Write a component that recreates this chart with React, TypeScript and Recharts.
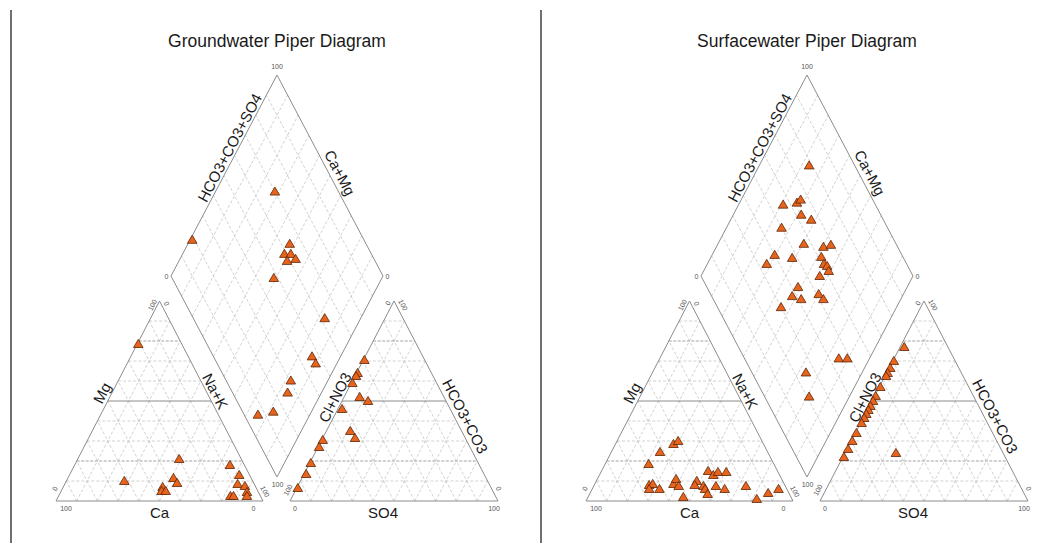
import React from "react";
import { ReferenceLine, Scatter, ScatterChart, XAxis, YAxis } from "recharts";

const PANEL_TITLES = ["Groundwater Piper Diagram", "Surfacewater Piper Diagram"];
const CATION_AXES = ["Mg", "Na+K", "Ca"];
const ANION_AXES = ["Cl+NO3", "HCO3+CO3", "SO4"];
const DIAMOND_AXES = ["HCO3+CO3+SO4", "Ca+Mg"];
const TICKS = ["0", "100"];

// cation triangle: [Mg %, Na+K %]
const gwCation = [
  [78.5, 0.5], [21, 49], [10, 28], [11.5, 51], [9, 54], [7, 48], [5, 48.5], [5, 50.5],
  [18, 75], [13, 82], [8.5, 83.5], [7.5, 87.5], [4.5, 90], [2.5, 83], [2.5, 84.5], [2.5, 91],
];
// anion triangle: [HCO3+CO3 %, SO4 %]
const gwAnion = [
  [70.5, 0.5], [64, 0.5], [62.5, 0.5], [59, 0.5], [52, 7.5], [50, 12.5], [46, 2],
  [35, 11.5], [31.5, 15.5], [30.5, 0.5], [27, 0.5], [19, 0.5], [13.5, 1], [6.5, 0.5],
];
// diamond: [Ca+Mg %, HCO3+CO3+SO4 %]
const gwDiamond = [
  [72, 70], [99, 19], [52, 64], [52, 59], [49, 62], [49, 58.5], [45.5, 63], [51, 48],
  [17, 62], [13.5, 46.5], [10, 46.5], [17.5, 30.5], [16, 26], [24.5, 6.5], [18, 14.5],
];

const swCation = [
  [28.5, 28], [30, 29.5], [24.5, 23.5], [18.5, 21], [8, 26.5], [8.5, 28], [6, 27.5], [6, 32.5],
  [8.5, 38], [11, 38], [7.5, 41], [2, 46], [10, 48.5], [8, 48.5], [7.5, 53], [6, 54.5],
  [3.5, 57], [15, 51.5], [13, 55], [14.5, 56.5], [14.5, 60.5], [7.5, 59], [6, 64], [7.5, 73.5],
  [1, 82], [4, 86], [6, 90],
];
const swAnion = [
  [77, 2], [70, 0.5], [66.5, 0.5], [64, 0.5], [62.5, 0.5], [57, 0.5], [52.5, 0.5], [50, 0.5],
  [47.5, 0.5], [45.5, 0.5], [43.5, 0.5], [41.5, 0.5], [39, 0.5], [34, 0.5], [30, 0.5],
  [26, 0.5], [22, 0.5], [24, 24.5],
];
const swDiamond = [
  [76.5, 78.5], [79, 56.5], [73, 63.5], [72, 66], [68, 62.5], [62, 66], [74, 50], [59.5, 56.5],
  [49.5, 65], [46.5, 69], [70.5, 40], [72, 34], [61.5, 47.5], [48, 61.5], [45, 61], [43, 62],
  [41, 61.5], [44, 56], [51.5, 43], [52, 38], [47, 41.5], [40, 51], [36.5, 52], [54.5, 30],
  [14.5, 44.5], [10.5, 48.5], [26.5, 25.5], [19, 21],
];

const PANEL_W = 528;
const PANEL_H = 543;
const FONT = "'Liberation Sans', Arial, Helvetica, sans-serif";

// layout of one panel (chart units == pixels)
const CAT = { x0: 56, x1: 263, yb: 501, yt: 301 };
const AN = { x0: 290, x1: 498, yb: 501, yt: 301 };
const DIA = { cx: 277, hw: 106, yb: 477, ym: 276 };

type Pt = { x: number; y: number };
type Tri = typeof CAT;

const tern = (T: Tri, top: number, right: number): Pt => ({
  x: T.x0 + ((T.x1 - T.x0) * (right + top / 2)) / 100,
  y: T.yb - ((T.yb - T.yt) * top) / 100,
});
const dia = (left: number, right: number): Pt => ({
  x: DIA.cx + (DIA.hw * (right - left)) / 100,
  y: DIA.yb - ((DIA.yb - DIA.ym) * (left + right)) / 100,
});

const along = (p: Pt, q: Pt, t: number, off: number): Pt => {
  const dx = q.x - p.x;
  const dy = q.y - p.y;
  const len = Math.hypot(dx, dy);
  return { x: p.x + t * dx + (off * dy) / len, y: p.y + t * dy - (off * dx) / len };
};
const angleOf = (p: Pt, q: Pt) => (Math.atan2(q.y - p.y, q.x - p.x) * 180) / Math.PI;

type Seg = { a: Pt; b: Pt; kind: string };

function triangleLines(T: Tri): Seg[] {
  const out: Seg[] = [];
  for (let k = 10; k < 100; k += 10) {
    const hk = k === 50 ? "solid" : k === 20 || k === 80 ? "dark" : "grid";
    out.push({ a: tern(T, k, 0), b: tern(T, k, 100 - k), kind: hk });
    out.push({ a: tern(T, 0, k), b: tern(T, 100 - k, k), kind: "grid" });
    out.push({ a: tern(T, 0, 100 - k), b: tern(T, 100 - k, 0), kind: "grid" });
  }
  const bl = tern(T, 0, 0), br = tern(T, 0, 100), ap = tern(T, 100, 0);
  out.push({ a: bl, b: br, kind: "edge" }, { a: br, b: ap, kind: "edge" }, { a: ap, b: bl, kind: "edge" });
  return out;
}

function diamondLines(): Seg[] {
  const out: Seg[] = [];
  for (let k = 10; k < 100; k += 10) {
    out.push({ a: dia(k, 0), b: dia(k, 100), kind: "grid" });
    out.push({ a: dia(0, k), b: dia(100, k), kind: "grid" });
  }
  const b = dia(0, 0), l = dia(100, 0), t = dia(100, 100), r = dia(0, 100);
  out.push({ a: b, b: l, kind: "edge" }, { a: l, b: t, kind: "edge" }, { a: t, b: r, kind: "edge" }, { a: r, b: b, kind: "edge" });
  return out;
}

const LINE_STYLE: Record<string, any> = {
  edge: { stroke: "#8c8c8c", strokeWidth: 1 },
  solid: { stroke: "#8c8c8c", strokeWidth: 1 },
  dark: { stroke: "#8a8a8a", strokeWidth: 0.8, strokeDasharray: "3 1.5" },
  grid: { stroke: "#bdbdbd", strokeWidth: 0.7, strokeDasharray: "3 2" },
};

type Lbl = Pt & { text: string; angle: number; size: number; color: string };

function buildLabels(title: string): Lbl[] {
  const out: Lbl[] = [];
  const add = (p: Pt, text: string, angle: number, size: number, color = "#1a1a1a") =>
    out.push({ x: p.x, y: p.y, text, angle, size, color });
  const tick = (p: Pt, text: string, angle = 0) => add(p, text, angle, 7, "#555");

  add({ x: DIA.cx, y: 41 }, title, 0, 17.5);

  const cBL = tern(CAT, 0, 0), cBR = tern(CAT, 0, 100), cAP = tern(CAT, 100, 0);
  const aBL = tern(AN, 0, 0), aBR = tern(AN, 0, 100), aAP = tern(AN, 100, 0);
  const dB = dia(0, 0), dL = dia(100, 0), dT = dia(100, 100), dR = dia(0, 100);
  const up = angleOf(cBL, cAP);
  const down = angleOf(cAP, cBR);

  add(along(cBL, cAP, 0.52, 9), CATION_AXES[0], up, 15);
  add(along(cAP, cBR, 0.47, 8), CATION_AXES[1], down, 15);
  add({ x: (cBL.x + cBR.x) / 2, y: 512 }, CATION_AXES[2], 0, 15);

  add(along(aBL, aAP, 0.5, 8), ANION_AXES[0], up, 15);
  add(along(aAP, aBR, 0.6, 10), ANION_AXES[1], down, 15);
  add({ x: aAP.x - 11, y: 512 }, ANION_AXES[2], 0, 15);

  add(along(dL, dT, 0.62, 8), DIAMOND_AXES[0], angleOf(dL, dT), 15);
  add(along(dT, dR, 0.51, 10), DIAMOND_AXES[1], angleOf(dT, dR), 15);

  // cation ticks
  tick({ x: cBL.x + 10, y: cBL.y + 7 }, TICKS[1]);
  tick({ x: cBR.x - 9.5, y: cBR.y + 7 }, TICKS[0]);
  tick({ x: cBL.x - 1, y: cBL.y - 12.5 }, TICKS[0], up);
  tick({ x: cAP.x - 7, y: cAP.y + 4 }, TICKS[1], up);
  tick({ x: cAP.x + 7, y: cAP.y + 2.5 }, TICKS[0], down);
  tick({ x: cBR.x + 2, y: cBR.y - 9.5 }, TICKS[1], down);
  // anion ticks
  tick({ x: aBL.x + 5, y: aBL.y + 7 }, TICKS[0]);
  tick({ x: aBR.x - 4, y: aBR.y + 7 }, TICKS[1]);
  tick({ x: aBL.x - 2, y: aBL.y - 11 }, TICKS[1], up);
  tick({ x: aAP.x - 6, y: aAP.y + 2 }, TICKS[0], up);
  tick({ x: aAP.x + 9, y: aAP.y + 4 }, TICKS[1], down);
  tick({ x: aBR.x + 0.5, y: aBR.y - 12.5 }, TICKS[0], down);
  // diamond ticks
  tick({ x: dT.x, y: dT.y - 8.5 }, TICKS[1]);
  tick({ x: dL.x - 4.5, y: dL.y + 0.5 }, TICKS[0]);
  tick({ x: dR.x + 4.5, y: dR.y + 0.5 }, TICKS[0]);
  tick({ x: dB.x + 0.5, y: dB.y + 7 }, TICKS[1]);
  return out;
}

function TriangleMarker(props: any) {
  const { cx, cy } = props;
  if (cx == null || cy == null) return null;
  return (
    <path
      d={`M${cx},${cy - 4.6}L${cx + 4.8},${cy + 3.5}L${cx - 4.8},${cy + 3.5}Z`}
      fill="#e8641c"
      stroke="#5a2608"
      strokeWidth={0.8}
    />
  );
}

function TextShape(props: any) {
  const { cx, cy, payload } = props;
  if (cx == null || cy == null) return null;
  return (
    <text
      x={cx}
      y={cy}
      textAnchor="middle"
      dominantBaseline="central"
      fontSize={payload.size}
      fontFamily={FONT}
      fill={payload.color}
      transform={payload.angle ? `rotate(${payload.angle},${cx},${cy})` : undefined}
    >
      {payload.text}
    </text>
  );
}

function PiperPanel({
  title,
  cation,
  anion,
  diamond,
}: {
  title: string;
  cation: number[][];
  anion: number[][];
  diamond: number[][];
}) {
  const lines = [...triangleLines(CAT), ...triangleLines(AN), ...diamondLines()];
  const labels = buildLabels(title);
  const points = [
    ...cation.map(([mg, nak]) => tern(CAT, mg, nak)),
    ...anion.map(([hco3, so4]) => tern(AN, hco3, so4)),
    ...diamond.map(([camg, hs]) => dia(camg, hs)),
  ];

  return (
    <ScatterChart width={PANEL_W} height={PANEL_H} margin={{ top: 0, right: 0, bottom: 0, left: 0 }}>
      <XAxis type="number" dataKey="x" domain={[0, PANEL_W]} hide allowDataOverflow />
      <YAxis type="number" dataKey="y" domain={[0, PANEL_H]} reversed hide allowDataOverflow />
      <ReferenceLine
        segment={[{ x: 11, y: 10 }, { x: 11, y: PANEL_H }]}
        stroke="#222"
        strokeWidth={1.3}
        ifOverflow="visible"
      />
      {lines.map((l, i) => (
        <ReferenceLine key={i} segment={[l.a, l.b]} ifOverflow="visible" {...LINE_STYLE[l.kind]} />
      ))}
      <Scatter data={labels} shape={TextShape} isAnimationActive={false} />
      <Scatter data={points} shape={TriangleMarker} isAnimationActive={false} />
    </ScatterChart>
  );
}

export default function App() {
  return (
    <div style={{ position: "absolute", left: 0, top: 0, width: 1058, height: 543, background: "#fff", overflow: "hidden" }}>
      <div style={{ position: "absolute", left: 0, top: 0 }}>
        <PiperPanel title={PANEL_TITLES[0]} cation={gwCation} anion={gwAnion} diamond={gwDiamond} />
      </div>
      <div style={{ position: "absolute", left: 530, top: 0 }}>
        <PiperPanel title={PANEL_TITLES[1]} cation={swCation} anion={swAnion} diamond={swDiamond} />
      </div>
    </div>
  );
}
